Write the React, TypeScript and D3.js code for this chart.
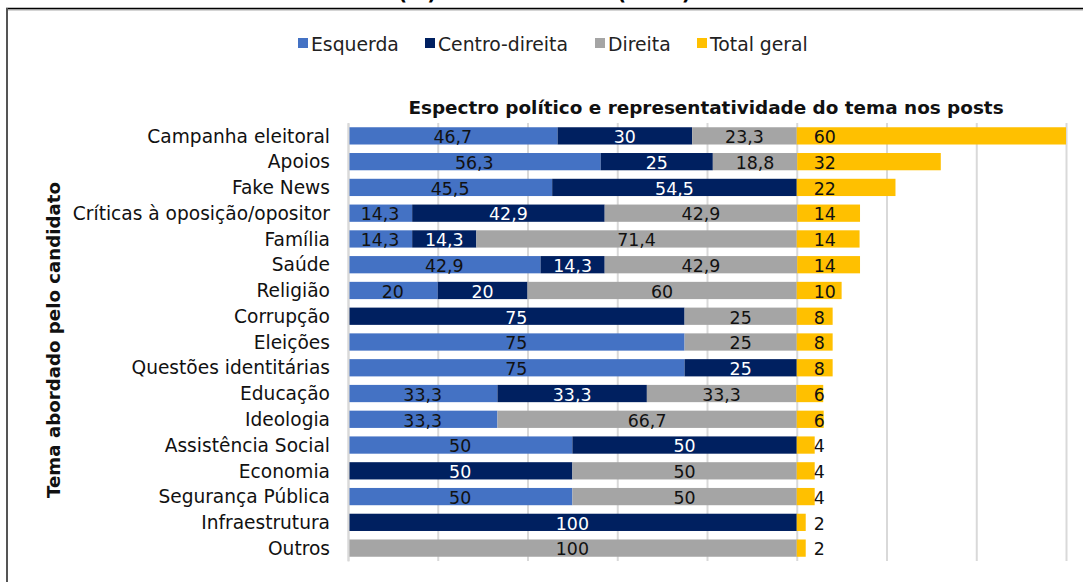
// @ts-nocheck
import React from 'react'
import * as d3 from 'd3'

const categories = [
  'Campanha eleitoral',
  'Apoios',
  'Fake News',
  'Críticas à oposição/opositor',
  'Família',
  'Saúde',
  'Religião',
  'Corrupção',
  'Eleições',
  'Questões identitárias',
  'Educação',
  'Ideologia',
  'Assistência Social',
  'Economia',
  'Segurança Pública',
  'Infraestrutura',
  'Outros',
]
const esquerda = [46.7, 56.3, 45.5, 14.3, 14.3, 42.9, 20, 0, 75, 75, 33.3, 33.3, 50, 0, 50, 0, 0]
const centroDireita = [30, 25, 54.5, 42.9, 14.3, 14.3, 20, 75, 0, 25, 33.3, 0, 50, 50, 0, 100, 0]
const direita = [23.3, 18.8, 0, 42.9, 71.4, 42.9, 60, 25, 25, 0, 33.3, 66.7, 0, 50, 50, 0, 100]
const totalGeral = [60, 32, 22, 14, 14, 14, 10, 8, 8, 8, 6, 6, 4, 4, 4, 2, 2]

const seriesNames = ['Esquerda', 'Centro-direita', 'Direita', 'Total geral']
const seriesColors = ['#4472C4', '#002060', '#A5A5A5', '#FFC000']
const xTicks = [0, 20, 40, 60, 80, 100, 120, 140, 160]

const FONT = '"DejaVu Sans", Verdana, sans-serif'
const fmt = (v) => String(v).replace('.', ',')

const App = () => {
  const svgRef = React.useRef(null)
  const width = 1083
  const height = 582

  React.useEffect(() => {
    const svg = d3.select(svgRef.current)
    svg.selectAll('*').remove()

    const x = d3.scaleLinear().domain([0, 160]).range([348, 1066])
    const y = d3.scaleBand().domain(categories).range([123, 561]).paddingInner(0.33).paddingOuter(0.165)

    // frame
    svg.append('line').attr('x1', 6).attr('x2', width).attr('y1', 10).attr('y2', 10)
      .attr('stroke', '#aaa').attr('stroke-width', 1)
    svg.append('line').attr('x1', 6).attr('x2', width).attr('y1', 8.5).attr('y2', 8.5)
      .attr('stroke', '#000').attr('stroke-width', 1.5)
    svg.append('line').attr('x1', 7).attr('x2', 7).attr('y1', 8).attr('y2', height)
      .attr('stroke', '#555').attr('stroke-width', 2)

    // title above the frame, cut off by the page edge as in the source
    svg.append('text').attr('x', 398).attr('y', 0).attr('font-family', FONT)
      .attr('font-weight', 'bold').attr('font-size', 20).text('(%)')
    svg.append('text').attr('x', 617).attr('y', 0).attr('font-family', FONT)
      .attr('font-weight', 'bold').attr('font-size', 20).text('(2020)')

    // legend
    const legendX = [298, 425, 595, 697]
    const legend = svg.append('g')
    seriesNames.forEach((name, i) => {
      legend.append('rect').attr('x', legendX[i]).attr('y', 38).attr('width', 10).attr('height', 10)
        .attr('fill', seriesColors[i])
      legend.append('text').attr('x', legendX[i] + 13).attr('y', 51).attr('font-family', FONT)
        .attr('font-size', 18.8).attr('fill', '#222').text(name)
    })

    // subtitle
    svg.append('text').attr('x', 706).attr('y', 114).attr('text-anchor', 'middle')
      .attr('font-family', FONT).attr('font-weight', 'bold').attr('font-size', 18.4)
      .attr('fill', '#111').text('Espectro político e representatividade do tema nos posts')

    // grid
    const [gy0, gy1] = y.range()
    const xAxis = d3.axisBottom(x).tickValues(xTicks).tickSize(-(gy1 - gy0)).tickFormat('')
    const xg = svg.append('g').attr('transform', `translate(0, ${gy1})`).call(xAxis)
    xg.select('.domain').remove()
    xg.selectAll('line').attr('stroke', '#d9d9d9').attr('stroke-width', 2)

    // bars
    const series = [esquerda, centroDireita, direita, totalGeral]
    const g = svg.append('g')
    categories.forEach((cat, i) => {
      let start = 0
      series.forEach((vals, s) => {
        const v = vals[i]
        if (!v) return
        const x0 = x(start)
        const x1 = x(start + v)
        g.append('rect').attr('x', x0).attr('y', y(cat)).attr('width', x1 - x0)
          .attr('height', y.bandwidth()).attr('fill', seriesColors[s])
        const cy = y(cat) + y.bandwidth() / 2
        if (s < 3) {
          g.append('text').attr('x', (x0 + x1) / 2).attr('y', cy).attr('dy', '0.42em')
            .attr('text-anchor', 'middle').attr('font-family', FONT).attr('font-size', 17.4)
            .attr('fill', s === 1 ? '#fff' : '#111').text(fmt(v))
        } else {
          g.append('text').attr('x', x(100) + 17).attr('y', cy).attr('dy', '0.42em')
            .attr('font-family', FONT).attr('font-size', 17.4).attr('fill', '#111').text(fmt(v))
        }
        start += v
      })
    })

    // category axis
    const yAxis = d3.axisLeft(y).tickSize(0).tickPadding(18)
    const yg = svg.append('g').attr('transform', `translate(${x(0)}, 0)`).call(yAxis)
    yg.select('.domain').attr('stroke', '#d9d9d9').attr('stroke-width', 2)
    yg.selectAll('text').attr('font-family', FONT).attr('font-size', 18.6).attr('fill', '#111')
      .attr('dy', '0.36em')

    // y title
    svg.append('text').attr('transform', `translate(60, 340) rotate(-90)`)
      .attr('text-anchor', 'middle').attr('font-family', FONT).attr('font-weight', 'bold')
      .attr('font-size', 18.2).attr('fill', '#111').text('Tema abordado pelo candidato')
  }, [])

  return (
    <svg
      ref={svgRef}
      width={width}
      height={height}
      style={{ position: 'absolute', left: 0, top: 0, background: '#fff' }}
    />
  )
}

export default App
